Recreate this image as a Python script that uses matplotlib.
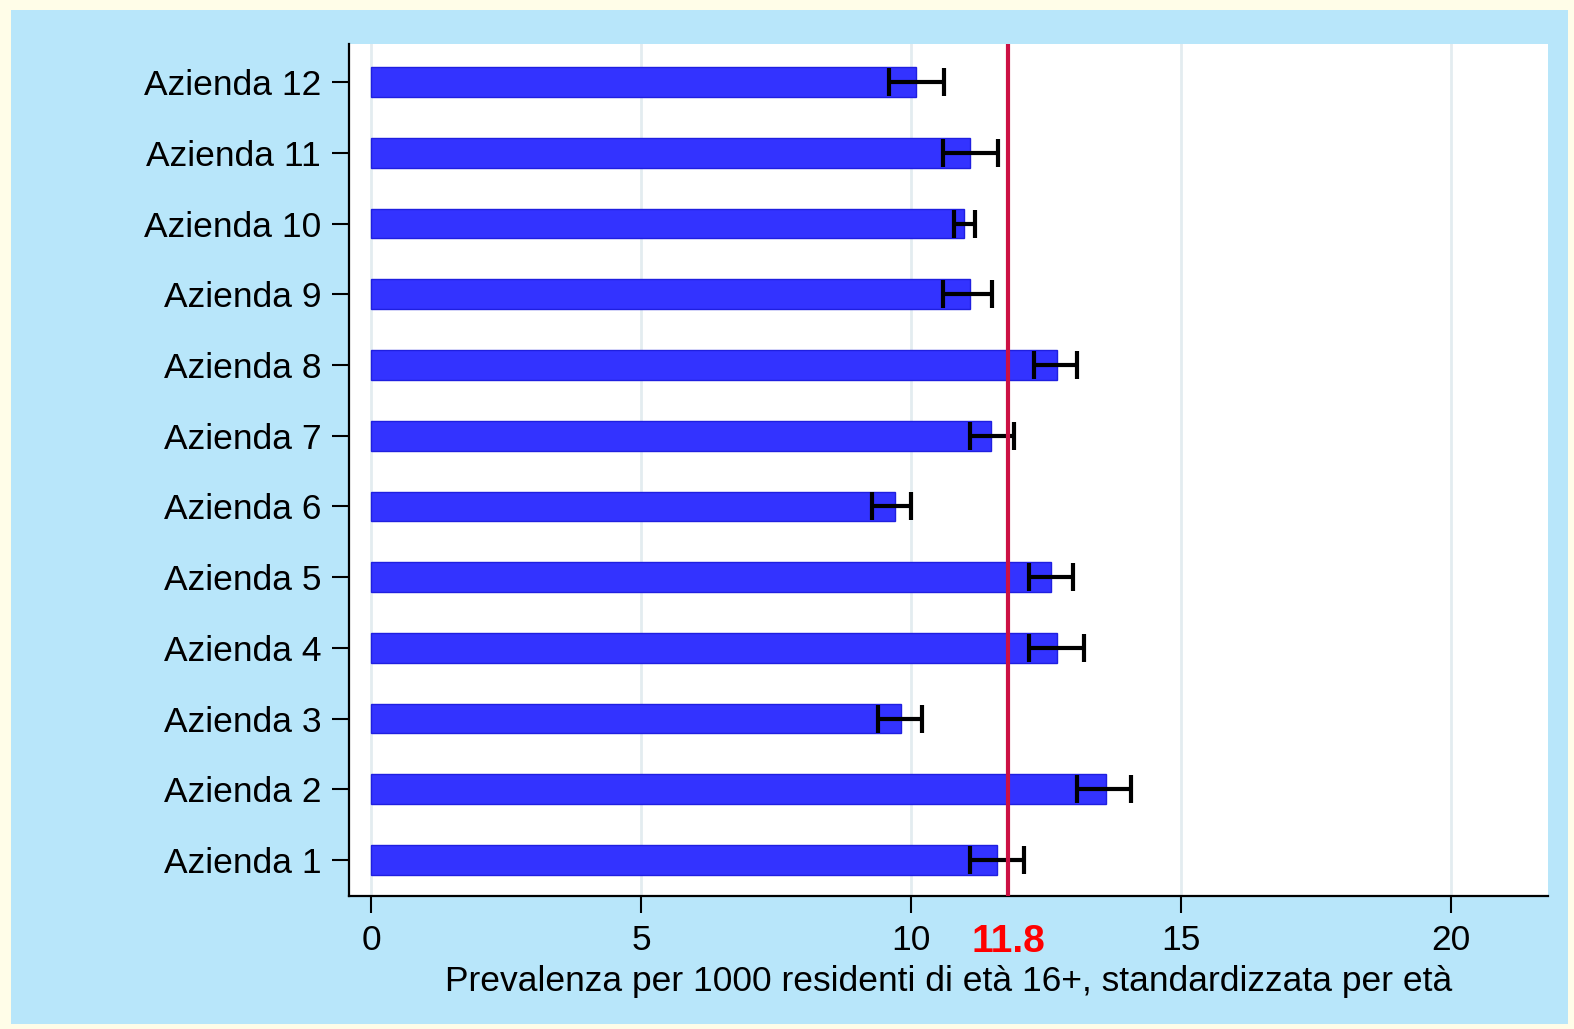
import matplotlib.pyplot as plt
import matplotlib.transforms as mtrans
import numpy as np

plt.rcParams['font.family'] = ['Liberation Sans', 'DejaVu Sans']

# prevalence per 1000 residents, with confidence limits
aziende = ['Azienda 1', 'Azienda 2', 'Azienda 3', 'Azienda 4', 'Azienda 5', 'Azienda 6',
           'Azienda 7', 'Azienda 8', 'Azienda 9', 'Azienda 10', 'Azienda 11', 'Azienda 12']
prev = [11.59, 13.61, 9.81, 12.70, 12.59, 9.70, 11.48, 12.70, 11.09, 10.98, 11.09, 10.09]
ci_lo = [11.09, 13.07, 9.39, 12.19, 12.19, 9.28, 11.09, 12.28, 10.59, 10.80, 10.59, 9.59]
ci_hi = [12.09, 14.07, 10.20, 13.20, 13.00, 10.00, 11.91, 13.07, 11.50, 11.19, 11.61, 10.61]
media = 11.8
xticks = [0, 5, 10, 15, 20]

fig = plt.figure(figsize=(15.74, 10.29), dpi=100, facecolor='#fffde8')
# blue panel behind the plot
fig.patches.append(plt.Rectangle((11/1574, 5/1029), 1557/1574, 1014/1029,
                                 transform=fig.transFigure, facecolor='#b8e6fa',
                                 edgecolor='none', zorder=-10))
ax = fig.add_axes([349/1574, 1 - 896/1029, (1548 - 349)/1574, (896 - 44)/1029])
ax.set_facecolor('white')

y = np.arange(1, len(aziende) + 1)
prev = np.array(prev)
lo = np.array(ci_lo)
hi = np.array(ci_hi)

ax.barh(y, prev, height=0.42, color='#3333ff', edgecolor='#1f1fe0', linewidth=1, zorder=2)
ax.errorbar(prev, y, xerr=[prev - lo, hi - prev], fmt='none', ecolor='black',
            elinewidth=3, capsize=10, capthick=3, zorder=3)
ax.axvline(media, color='#cc1144', lw=3, zorder=4)

ax.set_xlim(-0.41, 21.8)
ax.set_ylim(0.49, 12.54)
ax.set_xticks(xticks)
ax.set_yticks(y)
ax.set_yticklabels(aziende)
ax.grid(axis='x', color='#e3ecf0', lw=2, zorder=0)
ax.set_axisbelow(True)
for s in ['top', 'right']:
    ax.spines[s].set_visible(False)
for s in ['left', 'bottom']:
    ax.spines[s].set_linewidth(1.6)
ax.tick_params(axis='both', labelsize=25.5, length=12, width=1.5, color='black', pad=8)
ax.set_xlabel('Prevalenza per 1000 residenti di età 16+, standardizzata per età',
              fontsize=25.5, labelpad=6)

tr = mtrans.blended_transform_factory(ax.transData, ax.transAxes)
ax.text(media, -0.054, '11.8', transform=tr, ha='center', va='center',
        color='#ff0000', fontsize=28, fontweight='bold')

fig.savefig('out.png', dpi=100, facecolor=fig.get_facecolor())
